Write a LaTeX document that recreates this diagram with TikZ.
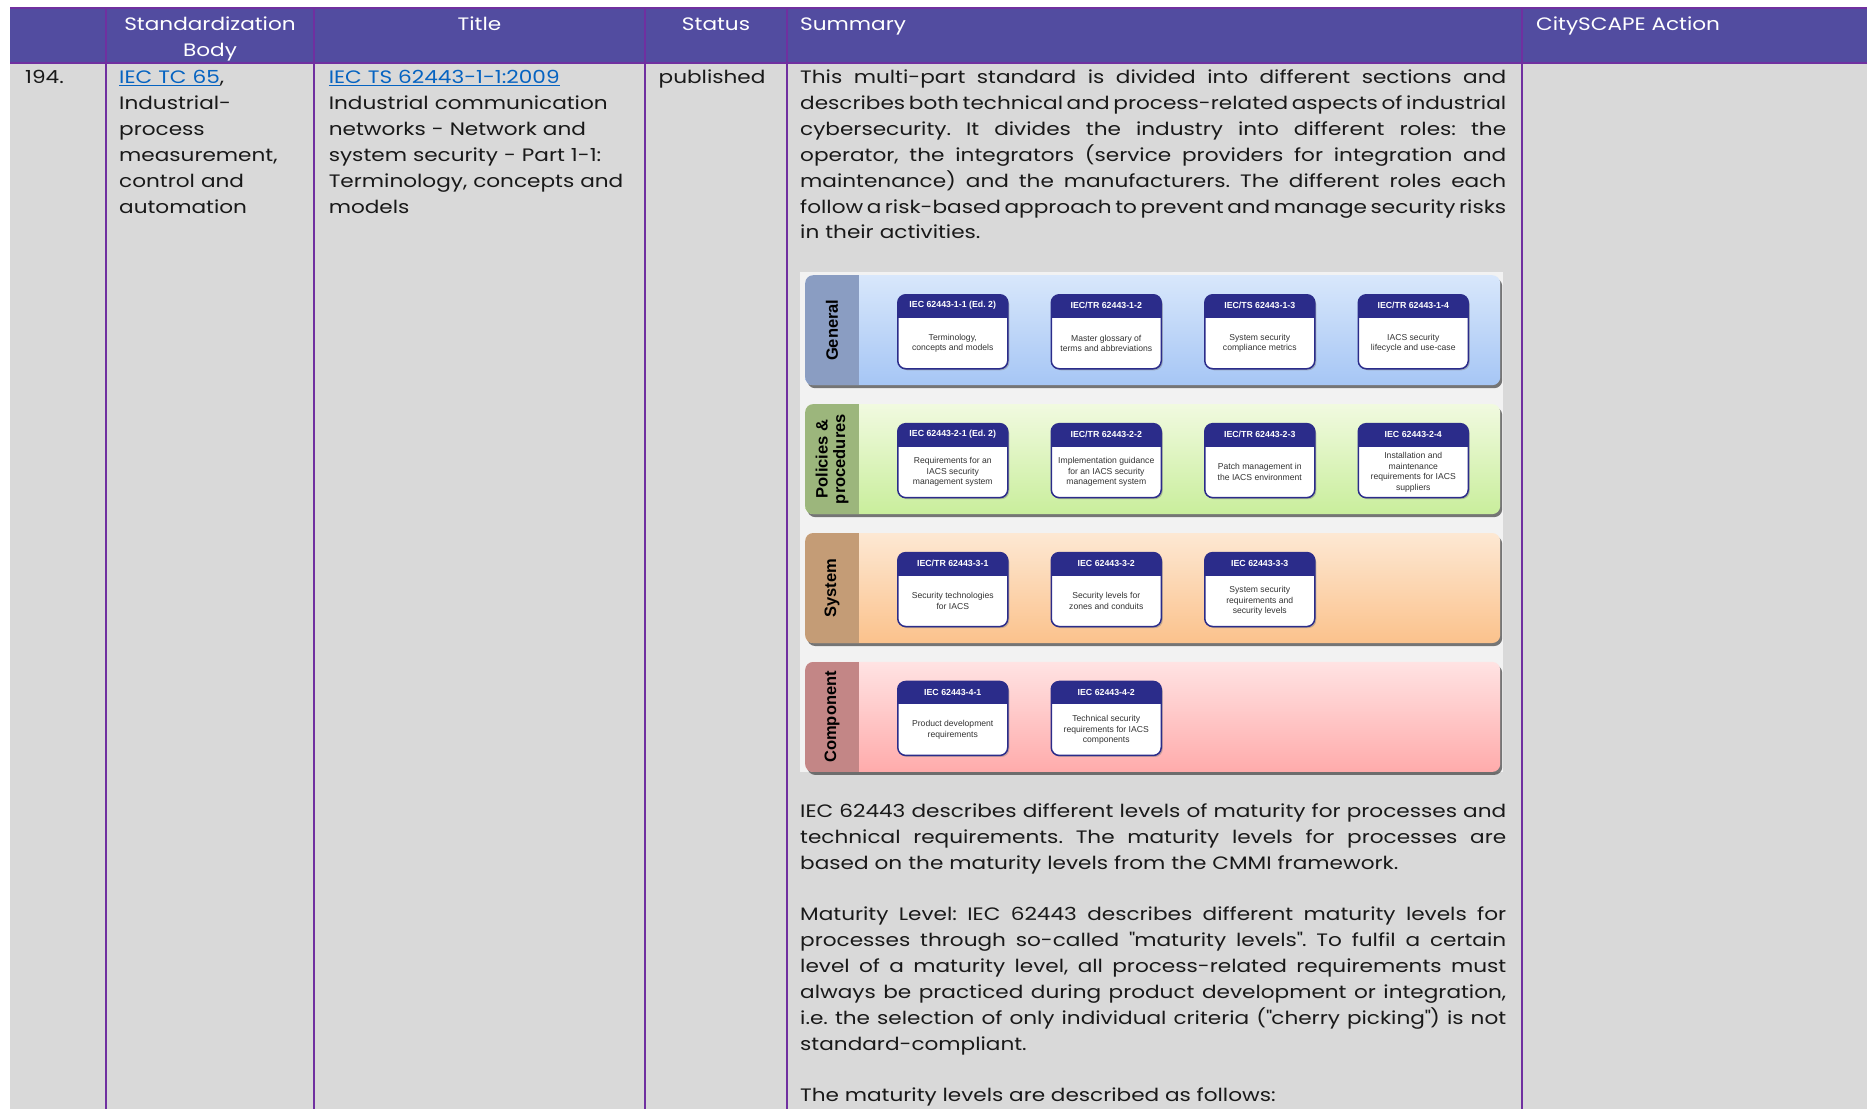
\documentclass[tikz,border=0pt]{standalone}
\usepackage{fontspec}
\setmainfont{Poppins}[FakeStretch=1.2]
\newfontfamily\figfont{Liberation Sans}
\usetikzlibrary{positioning, shadows}
\definecolor{headerblue}{HTML}{524CA0}
\definecolor{rulepurple}{HTML}{7030A0}
\definecolor{cellgray}{HTML}{D9D9D9}
\definecolor{linkblue}{HTML}{0563C1}
\definecolor{iecnavy}{HTML}{2B2C8A}
\definecolor{figback}{HTML}{F2F2F2}
\definecolor{genstrip}{HTML}{8A9DC2}
\definecolor{gentop}{HTML}{D8E7FB}
\definecolor{genbot}{HTML}{A6C6F5}
\definecolor{polstrip}{HTML}{9CB67C}
\definecolor{poltop}{HTML}{F1FAE0}
\definecolor{polbot}{HTML}{C9EE9C}
\definecolor{sysstrip}{HTML}{C49C76}
\definecolor{systop}{HTML}{FDE8D3}
\definecolor{sysbot}{HTML}{FBC28C}
\definecolor{comstrip}{HTML}{C38686}
\definecolor{comtop}{HTML}{FFE3E3}
\definecolor{combot}{HTML}{FFABAB}

% justified line of the summary column
\newcommand{\jline}[1]{{\spaceskip=\fontdimen2\font plus 1fil minus .5\fontdimen2\font\relax
  \makebox[706pt][s]{#1}}}
% one part of the standard: name, placement, number, scope
\newcommand{\stdbox}[4]{%
  \node[stdbox, #2] (#1) {};
  \node[boxhead] (#1-no) at ([yshift=-11.5pt]#1.north) {#3};
  \node[boxtext] (#1-txt) at ([yshift=-11.5pt]#1.center) {#4};}

\begin{document}
\frenchspacing
\begin{tikzpicture}[
    x=1pt, y=-1pt,
    font=\fontsize{18}{25.9}\selectfont,
    colhead/.style={text=white, anchor=base, align=center, inner sep=0},
    cell/.style={anchor=base west, align=left, inner sep=0, text=black!90},
    colrule/.style={rulepurple, line width=2pt},
    band/.style n args={3}{rounded corners=8pt, minimum width=695pt,
                    minimum height=110pt, inner sep=0, anchor=north west,
                    top color=#2, bottom color=#3,
                    drop shadow={shadow xshift=2pt, shadow yshift=-3pt,
                                 fill=black!75, opacity=.7},
                    path picture={\fill[#1, sharp corners]
                      (path picture bounding box.north west) rectangle
                      ([xshift=54pt]path picture bounding box.south west);}},
    bandlabel/.style={rotate=90, align=center, inner sep=0,
                      font=\figfont\bfseries\fontsize{16.5}{17.5}\selectfont},
    stdbox/.style={rounded corners=8pt, draw=iecnavy, line width=1.5pt,
                   fill=white, minimum width=110pt, minimum height=74pt,
                   inner sep=0,
                   drop shadow={shadow xshift=1.5pt, shadow yshift=-1.5pt,
                                opacity=.45},
                   path picture={\fill[iecnavy, sharp corners]
                     (path picture bounding box.north west) rectangle
                     ([yshift=-23pt]path picture bounding box.north east);}},
    boxhead/.style={text=white, inner sep=0,
                    font=\figfont\bfseries\fontsize{8.8}{10}\selectfont},
    boxtext/.style={text=black!80, align=center, inner sep=0,
                    font=\figfont\fontsize{8.6}{10.5}\selectfont}
  ]
    \useasboundingbox (0,0) rectangle (1867,1109);

    % --- Table background ---
    \fill[cellgray] (10,63) rectangle (1867,1109);
    \fill[headerblue] (10,8) rectangle (1867,63);
    \draw[colrule] (10,8) -- (1867,8);
    \draw[colrule] (10,63) -- (1867,63);
    \foreach \cx in {106,314,645,787,1522}
      \draw[colrule] (\cx,8) -- (\cx,1109);

    % --- Header row ---
    \node[colhead, text width=200pt] (h-body) at (210,30.5) {Standardization\\Body};
    \node[colhead] (h-title) at (479.5,30.5) {Title};
    \node[colhead] (h-status) at (716,30.5) {Status};
    \node[cell, text=white] (h-sum) at (800,30.5) {Summary};
    \node[cell, text=white] (h-action) at (1536,30.5) {CitySCAPE Action};

    % --- Row 194 ---
    \node[cell] (num) at (25,83.5) {194.};
    \node[cell, text width=190pt] (body) at (119,83.5)
      {{\color{linkblue}\underline{IEC TC 65}},\\Industrial-\\process\\measurement,\\control and\\automation};
    \node[cell, text width=310pt] (title) at (328.6,83.5)
      {{\color{linkblue}\underline{IEC TS 62443-1-1:2009}}\\Industrial communication\\networks - Network and\\system security - Part 1-1:\\Terminology, concepts and\\models};
    \node[cell] (status) at (658.5,83.5) {published};

    % --- Summary ---
    \node[cell, text width=706pt] (sum1) at (800,83.5)
      {\jline{This multi-part standard is divided into different sections and}\\
       \jline{describes both technical and process-related aspects of industrial}\\
       \jline{cybersecurity. It divides the industry into different roles: the}\\
       \jline{operator, the integrators (service providers for integration and}\\
       \jline{maintenance) and the manufacturers. The different roles each}\\
       \jline{follow a risk-based approach to prevent and manage security risks}\\
       in their activities.};

    % --- Figure: parts of IEC 62443 ---
    \node[fill=figback, minimum width=703pt, minimum height=500pt,
          inner sep=0, anchor=north west] (fig) at (800,272) {};

    \node[band={genstrip}{gentop}{genbot}] (gen)
      at ([xshift=5pt, yshift=-3pt]fig.north west) {};
    \node[band={polstrip}{poltop}{polbot}, below=18.5pt of gen] (pol) {};
    \node[band={sysstrip}{systop}{sysbot}, below=18.5pt of pol] (sys) {};
    \node[band={comstrip}{comtop}{combot}, below=18.5pt of sys] (com) {};

    \node[bandlabel] (gen-lbl) at ([xshift=27pt]gen.west) {General};
    \node[bandlabel] (pol-lbl) at ([xshift=27pt]pol.west) {Policies \&\\procedures};
    \node[bandlabel] (sys-lbl) at ([xshift=27pt]sys.west) {System};
    \node[bandlabel] (com-lbl) at ([xshift=27pt]com.west) {Component};

    % General
    \stdbox{g1}{below right=19pt and 92pt of gen.north west}{IEC 62443-1-1 (Ed. 2)}{Terminology,\\concepts and models}
    \stdbox{g2}{right=42pt of g1}{IEC/TR 62443-1-2}{Master glossary of\\terms and abbreviations}
    \stdbox{g3}{right=42pt of g2}{IEC/TS 62443-1-3}{System security\\compliance metrics}
    \stdbox{g4}{right=42pt of g3}{IEC/TR 62443-1-4}{IACS security\\lifecycle and use-case}

    % Policies & procedures
    \stdbox{p1}{below right=19pt and 92pt of pol.north west}{IEC 62443-2-1 (Ed. 2)}{Requirements for an\\IACS security\\management system}
    \stdbox{p2}{right=42pt of p1}{IEC/TR 62443-2-2}{Implementation guidance\\for an IACS security\\management system}
    \stdbox{p3}{right=42pt of p2}{IEC/TR 62443-2-3}{Patch management in\\the IACS environment}
    \stdbox{p4}{right=42pt of p3}{IEC 62443-2-4}{Installation and\\maintenance\\requirements for IACS\\suppliers}

    % System
    \stdbox{s1}{below right=19pt and 92pt of sys.north west}{IEC/TR 62443-3-1}{Security technologies\\for IACS}
    \stdbox{s2}{right=42pt of s1}{IEC 62443-3-2}{Security levels for\\zones and conduits}
    \stdbox{s3}{right=42pt of s2}{IEC 62443-3-3}{System security\\requirements and\\security levels}

    % Component
    \stdbox{c1}{below right=19pt and 92pt of com.north west}{IEC 62443-4-1}{Product development\\requirements}
    \stdbox{c2}{right=42pt of c1}{IEC 62443-4-2}{Technical security\\requirements for IACS\\components}

    % --- Maturity levels ---
    \node[cell, text width=706pt] (sum2) at (800,817.5)
      {\jline{IEC 62443 describes different levels of maturity for processes and}\\
       \jline{technical requirements. The maturity levels for processes are}\\
       based on the maturity levels from the CMMI framework.};
    \node[cell, text width=706pt] (sum3) at (800,920.5)
      {\jline{Maturity Level: IEC 62443 describes different maturity levels for}\\
       \jline{processes through so-called \textquotedbl maturity levels\textquotedbl. To fulfil a certain}\\
       \jline{level of a maturity level, all process-related requirements must}\\
       \jline{always be practiced during product development or integration,}\\
       \jline{i.e. the selection of only individual criteria (\textquotedbl cherry picking\textquotedbl) is not}\\
       standard-compliant.};
    \node[cell] (sum4) at (800,1101.5) {The maturity levels are described as follows:};

  \end{tikzpicture}
\end{document}
